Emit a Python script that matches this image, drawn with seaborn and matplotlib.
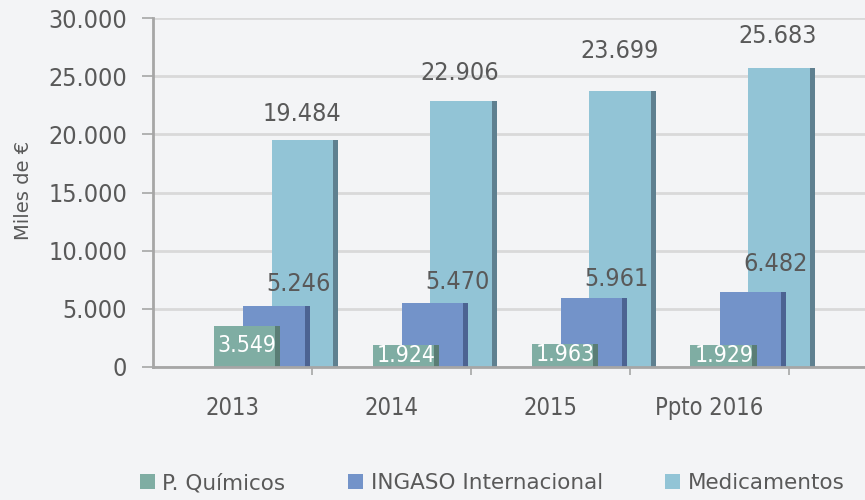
import numpy as np
import pandas as pd
import matplotlib
matplotlib.use("Agg")
import matplotlib.pyplot as plt
from matplotlib.patches import Rectangle, Patch
import seaborn as sns

categories = ["2013", "2014", "2015", "Ppto 2016"]
series_names = ["P. Químicos", "INGASO Internacional", "Medicamentos"]
quimicos = [3549, 1924, 1963, 1929]
ingaso = [5246, 5470, 5961, 6482]
medicamentos = [19484, 22906, 23699, 25683]
yticks = [0, 5000, 10000, 15000, 20000, 25000, 30000]

colors = {"P. Químicos": "#7fada3", "INGASO Internacional": "#7393c9", "Medicamentos": "#92c4d6"}
shadows = {"P. Químicos": "#5a7d75", "INGASO Internacional": "#4c6392", "Medicamentos": "#5f8090"}
offsets = {"P. Químicos": 0.092, "INGASO Internacional": 0.275, "Medicamentos": 0.456}
values = {"P. Químicos": quimicos, "INGASO Internacional": ingaso, "Medicamentos": medicamentos}
# label placement (points): horizontal shift and vertical lift above the bar top
label_dx = {"INGASO Internacional": [16, 16, 16, 16], "Medicamentos": [-2, -3, -2, -3]}
label_dy = {"INGASO Internacional": [16, 15.5, 13.5, 20], "Medicamentos": [19, 19.5, 29, 23]}

def fmt(v):
    return f"{v:,}".replace(",", ".")

sns.set_theme(style="white")
plt.rcParams["font.family"] = ["DejaVu Sans"]
bg = "#f3f4f6"
txt = "#595959"
NUM = dict(fontsize=18, fontstretch="condensed")
SMALL = dict(fontsize=16.5, fontstretch="condensed")
CAT = dict(fontsize=17, fontstretch="condensed")

fig = plt.figure(figsize=(8.65, 5.0), dpi=100, facecolor=bg)
ax = fig.add_axes([153/865, 1-367/500, 1-153/865, (367-18)/500])
ax.set_facecolor(bg)

width = 0.42
idx = np.arange(len(categories))
draw_order = ["Medicamentos", "INGASO Internacional", "P. Químicos"]
for k, name in enumerate(draw_order):
    z = 2 + k
    n0 = len(ax.patches)
    df = pd.DataFrame({"x": idx + offsets[name], "y": values[name]})
    sns.barplot(data=df, x="x", y="y", native_scale=True, width=width,
                color=colors[name], saturation=1, errorbar=None, ax=ax,
                zorder=z, linewidth=0)
    new = ax.patches[n0:]
    for i, (p, v) in enumerate(zip(new, values[name])):
        x0, w, h = p.get_x(), p.get_width(), p.get_height()
        sw = w * 0.075
        ax.add_patch(Rectangle((x0 + w - sw, 0), sw, h, color=shadows[name],
                               zorder=z + 0.1, lw=0))
        cx = x0 + w / 2
        if name == "P. Químicos":
            ax.annotate(fmt(v), (cx, h / 2), xytext=(0, 0.5), textcoords="offset points",
                        ha="center", va="center", color="white", zorder=10, **SMALL)
        else:
            ax.annotate(fmt(v), (cx, h), xytext=(label_dx[name][i], label_dy[name][i]),
                        textcoords="offset points", ha="center", va="center",
                        color=txt, zorder=10, **NUM)

ax.set_xlim(-0.5, 3.98)
ax.set_ylim(0, 30000)
ax.set_yticks(yticks)
ax.set_yticklabels([fmt(t) for t in yticks], **NUM)
ax.set_xticks([0.5, 1.5, 2.5, 3.5])
ax.set_xticklabels([])
ax.set_xticks(idx, minor=True)
ax.set_xticklabels(categories, minor=True, **CAT)
ax.tick_params(axis="x", which="major", length=6, width=1.2, color="#a6a6a6", direction="out", bottom=True)
ax.tick_params(axis="x", which="minor", length=0, pad=21, labelcolor=txt)
ax.tick_params(axis="y", length=8, width=1.2, color="#a6a6a6", direction="out", left=True,
               pad=10.5, labelcolor=txt)
ax.set_xlabel("")
ax.set_ylabel("")
ax.yaxis.grid(True, color="#d9d9d9", lw=2)
ax.set_axisbelow(True)
for s in ["top", "right"]:
    ax.spines[s].set_visible(False)
for s in ["left", "bottom"]:
    ax.spines[s].set_color("#a6a6a6")
    ax.spines[s].set_linewidth(2)
ax.spines["bottom"].set_zorder(20)

fig.text(24/865, 1-190/500, "Miles de €", rotation=90, ha="center", va="center",
         fontsize=14, color=txt)

handles = [Patch(facecolor=colors[n], edgecolor="none") for n in series_names]
leg = fig.legend(handles, series_names, loc="center", bbox_to_anchor=(0.569, 1-483/500),
                 ncol=3, frameon=False, fontsize=15.5, handlelength=0.7, handleheight=0.7,
                 handletextpad=0.35, columnspacing=2.9, labelcolor=txt)

fig.savefig("out.png", dpi=100, facecolor=bg)
